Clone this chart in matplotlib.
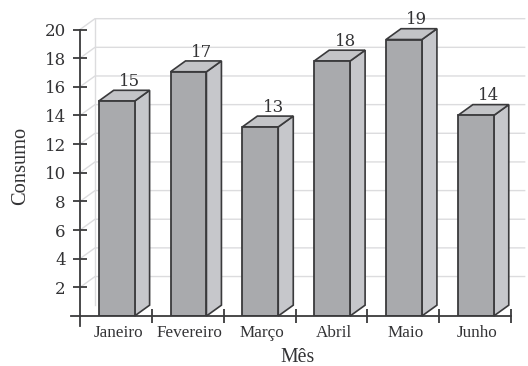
import matplotlib
matplotlib.use("Agg")
import matplotlib.pyplot as plt
from matplotlib.patches import Polygon

meses = ["Janeiro", "Fevereiro", "Março", "Abril", "Maio", "Junho"]
rotulos = [15, 17, 13, 18, 19, 14]
# bar tops as drawn, slightly off the printed numbers
alturas = [15.0, 17.05, 13.2, 17.8, 19.3, 14.0]
yticks = [2, 4, 6, 8, 10, 12, 14, 16, 18, 20]

W, H = 528, 366
dark = "#3a3a3c"
textc = "#333335"
plt.rcParams["font.family"] = "DejaVu Serif"

fig = plt.figure(figsize=(W / 100, H / 100), dpi=100)
ax = fig.add_axes([80 / W, (H - 316) / H, 431 / W, 286.5 / H])
ax.set_xlim(0, 6)
ax.set_ylim(0, 20)

# depth of the fake 3d, in data units
dx = 15 / 71.8
dy = 10.8 / 14.3
largura = 0.5

# back wall
for v in yticks:
    ax.plot([0, dx, 6.19], [v, v + dy, v + dy], color="#dcdcde", lw=1.0, zorder=1, clip_on=False)
ax.plot([dx, dx], [dy, 20 + dy], color="#dcdcde", lw=1.0, zorder=1, clip_on=False)

xs = [i + 0.51 for i in range(len(meses))]
ax.bar(xs, alturas, width=largura, color="#a9aaad", edgecolor=dark, linewidth=1.3, zorder=3)
for x, h, r in zip(xs, alturas, rotulos):
    x0 = x - largura / 2
    x1 = x + largura / 2
    lado = [(x1, 0), (x1 + dx, dy), (x1 + dx, h + dy), (x1, h)]
    topo = [(x0, h), (x1, h), (x1 + dx, h + dy), (x0 + dx, h + dy)]
    ax.add_patch(Polygon(lado, facecolor="#c6c7cb", edgecolor=dark, lw=1.2, zorder=2, clip_on=False))
    ax.add_patch(Polygon(topo, facecolor="#c3c4c7", edgecolor=dark, lw=1.2, zorder=2, clip_on=False))
    ax.text(x + 0.18, h + dy + 0.3, str(r), ha="center", va="baseline", fontsize=12,
            color=textc, clip_on=False)

for s in ["top", "right"]:
    ax.spines[s].set_visible(False)
for s in ["left", "bottom"]:
    ax.spines[s].set_color(dark)
    ax.spines[s].set_linewidth(1.3)
ax.spines["left"].set_zorder(5)
ax.spines["bottom"].set_zorder(5)
# axes run a little past the origin
ax.plot([0, 0], [0, -0.68], color=dark, lw=1.3, clip_on=False, zorder=5)
ax.plot([-0.125, 0], [0, 0], color=dark, lw=1.3, clip_on=False, zorder=5)

ax.set_yticks(yticks)
ax.tick_params(axis="y", direction="inout", length=9.4, width=1.3, color=dark, labelsize=12,
               labelcolor=textc, pad=5.5)
ax.set_xticks([1, 2, 3, 4, 5, 6])
ax.set_xticklabels([])
ax.tick_params(axis="x", direction="inout", length=9.4, width=1.3, color=dark)
ax.set_xticks([x + 0.02 for x in xs], minor=True)
ax.set_xticklabels(meses, minor=True, fontsize=12.3, color=textc, family="Liberation Serif")
ax.tick_params(axis="x", which="minor", length=0, pad=6.5)

fig.text(21 / W, 1 - 166 / H, "Consumo", rotation=90, ha="center", va="center", fontsize=14.7,
         color=textc, family="Liberation Serif")
fig.text(298 / W, 1 - 357.5 / H, "Mês", ha="center", va="center", fontsize=14.3, color=textc,
         family="Liberation Serif")

fig.savefig("out.png", dpi=100)
